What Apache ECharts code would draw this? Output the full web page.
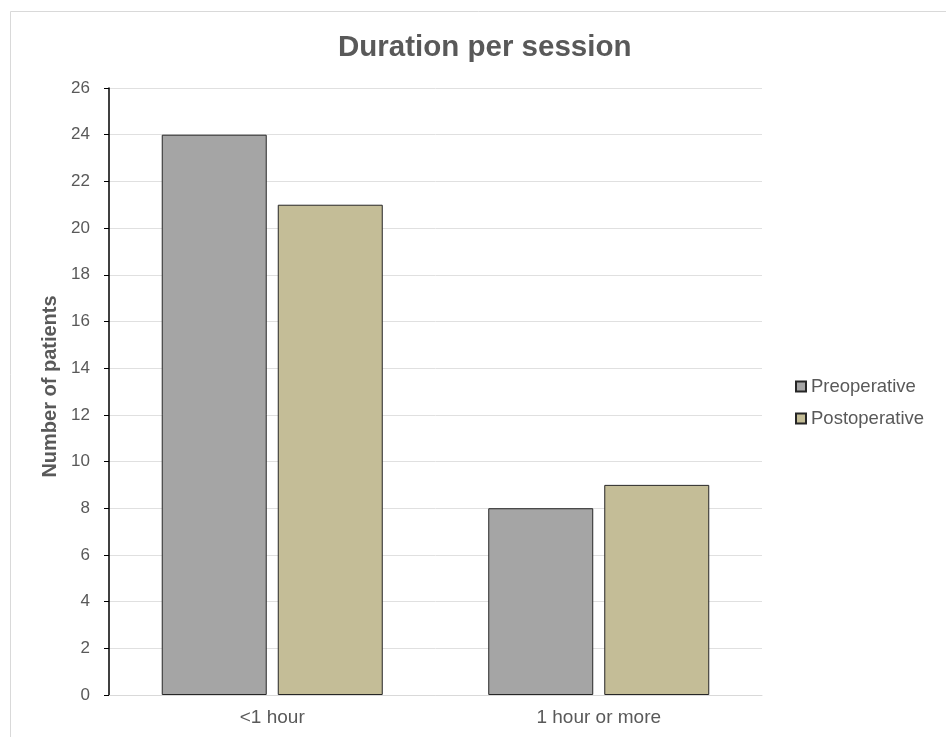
<!DOCTYPE html>
<html><head><meta charset="utf-8">
<script src="https://cdn.jsdelivr.net/npm/echarts@6/dist/echarts.min.js"></script>
<style>html,body{margin:0;padding:0;background:#fff}#c{width:946px;height:737px}</style>
</head><body><div id="c"></div>
<script>
const categories = ['<1 hour', '1 hour or more'];
const preoperative = [24, 8];
const postoperative = [21, 9];
const yTicks = [0, 26, 2];

const chart = echarts.init(document.getElementById('c'));
chart.setOption({
  animation: false,
  backgroundColor: '#fff',
  graphic: [{
    type: 'rect', left: 8, top: 9,
    shape: { width: 946, height: 740 },
    style: { fill: 'none', stroke: '#d9d9d9', lineWidth: 1 }
  }],
  title: {
    text: 'Duration per session', left: 333, top: 28,
    textStyle: { fontFamily: 'Liberation Sans, Arial', fontSize: 29.5, fontWeight: 'bold', color: '#595959' }
  },
  legend: {
    orient: 'vertical', left: 790, top: 372, itemGap: 13,
    itemWidth: 10, itemHeight: 10, icon: 'rect',
    textStyle: { fontFamily: 'Liberation Sans, Arial', fontSize: 18.5, color: '#595959' },
    data: ['Preoperative', 'Postoperative']
  },
  grid: { left: 109, top: 88, right: 184, bottom: 42, containLabel: false },
  xAxis: {
    type: 'category', data: categories,
    axisLine: { lineStyle: { color: '#d9d9d9', width: 1 } },
    axisTick: { show: false },
    axisLabel: { fontFamily: 'Liberation Sans, Arial', fontSize: 19, color: '#595959', margin: 13 }
  },
  yAxis: {
    type: 'value', min: yTicks[0], max: yTicks[1], interval: yTicks[2],
    name: 'Number of patients', nameLocation: 'middle', nameGap: 48,
    nameTextStyle: { fontFamily: 'Liberation Sans, Arial', fontSize: 20, fontWeight: 'bold', color: '#595959', padding: [0, 0, 0, 10] },
    axisLine: { show: true, lineStyle: { color: '#000', width: 1.5 } },
    axisTick: { show: true, length: 5, lineStyle: { color: '#000' } },
    axisLabel: { fontFamily: 'Liberation Sans, Arial', fontSize: 17, color: '#595959', margin: 19 },
    splitLine: { lineStyle: { color: '#e0e0e0', width: 1 } }
  },
  series: [
    { name: 'Preoperative', type: 'bar', data: preoperative, barWidth: 105, barGap: '10.5%',
      itemStyle: { color: '#a5a5a5', borderColor: '#262626', borderWidth: 1 } },
    { name: 'Postoperative', type: 'bar', data: postoperative, barWidth: 105,
      itemStyle: { color: '#c4bd97', borderColor: '#262626', borderWidth: 1 } }
  ]
});
</script></body></html>
